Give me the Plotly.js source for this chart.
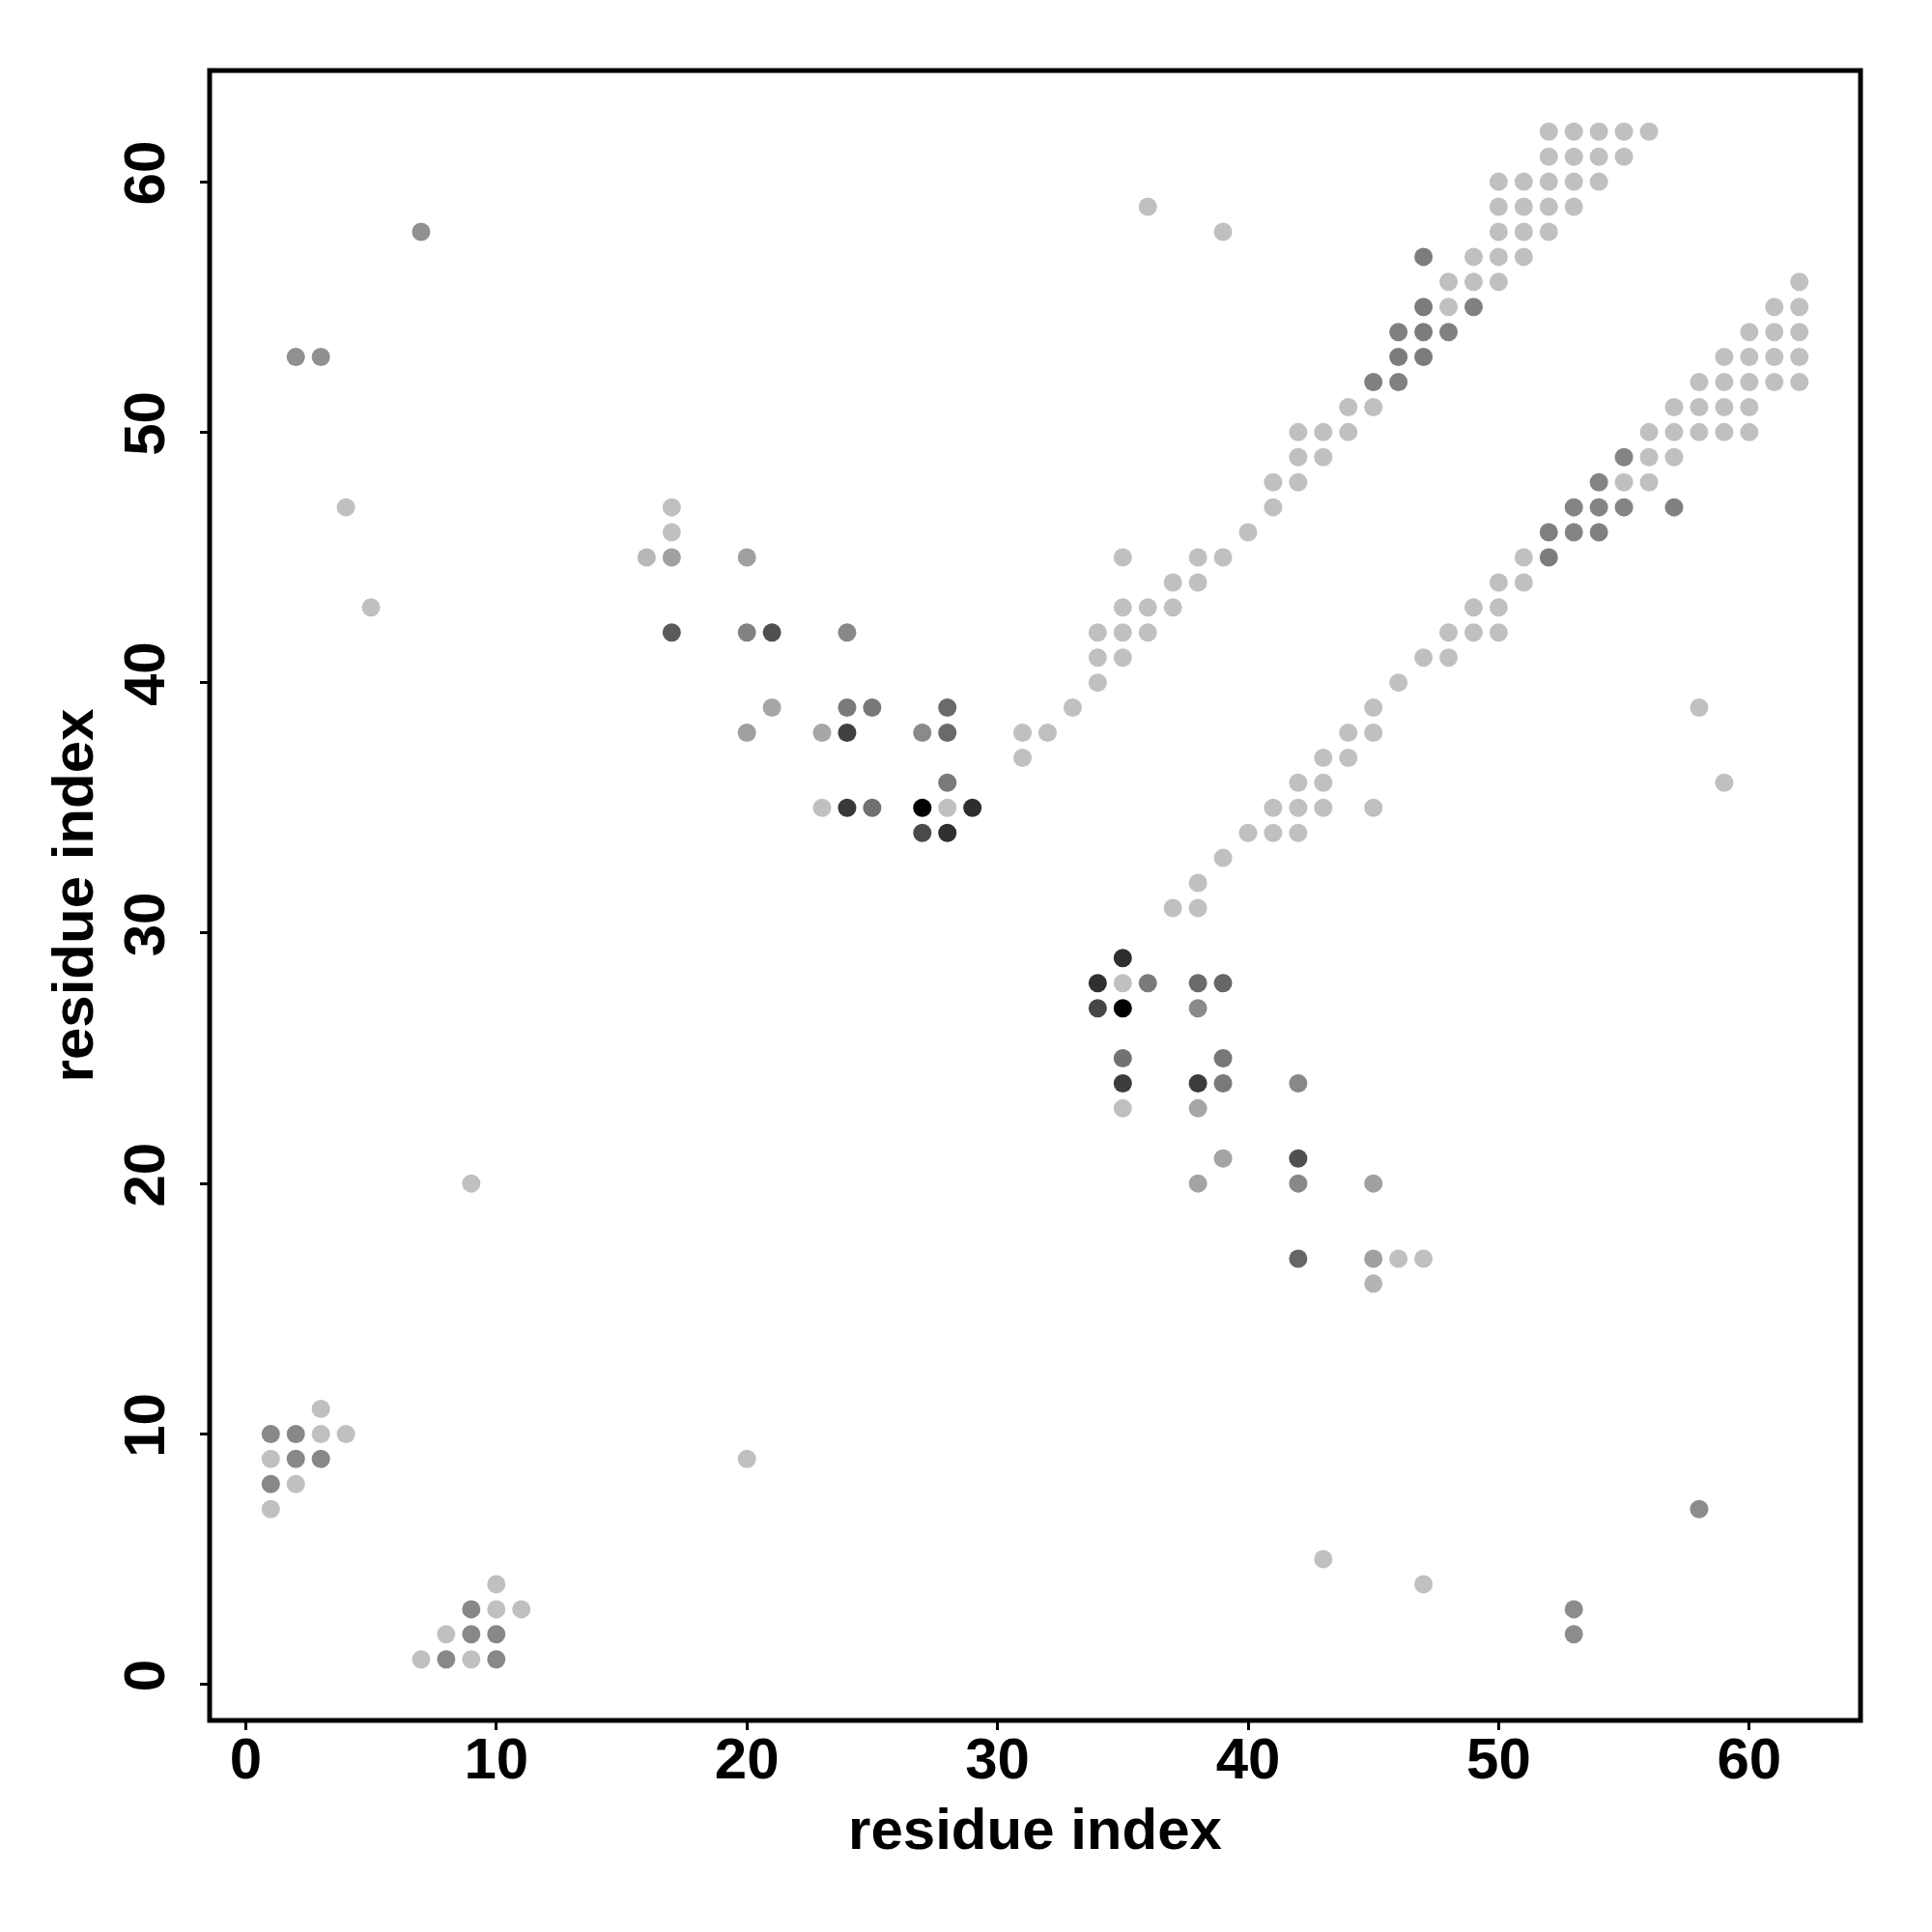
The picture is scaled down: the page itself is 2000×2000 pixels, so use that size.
<!DOCTYPE html>
<html>
<head>
<meta charset="utf-8">
<script src="https://cdn.plot.ly/plotly-3.0.1.min.js"></script>
<style>html,body{margin:0;padding:0;background:#fff;}#chart{width:2000px;height:2000px;}</style>
</head>
<body>
<div id="chart"></div>
<script>
// ---- Data: contact map (residue i, residue j, contact strength 0..1) ----
// scattered contacts, upper-left
const scatterX = [7,2,3,4,5,16,17,17,17,20,17,20,21,24,21,24,25,28,20,23,24,27,28,28,23,24,25,27,28,29,27,28];
const scatterY = [58,53,53,47,43,45,47,46,45,45,42,42,42,42,39,39,39,39,38,38,38,38,38,36,35,35,35,35,35,35,34,34];
const scatterS = [.28,.28,.28,.04,.04,.08,.04,.04,.2,.2,.55,.35,.6,.32,.17,.39,.4,.47,.2,.17,.68,.31,.47,.39,.04,.72,.44,1,.04,.77,.63,.76];

// cluster, lower middle
const clusterX = [35,34,35,36,38,39,34,35,38,35,39,35,38,39,42,35,38,39,42,38,42,45,42,45,46,47,45];
const clusterY = [29,28,28,28,28,28,27,27,27,25,25,24,24,24,24,23,23,21,21,20,20,20,17,17,17,17,16];
const clusterS = [.77,.76,.04,.39,.47,.49,.65,1,.31,.43,.4,.7,.7,.39,.32,.04,.17,.18,.6,.18,.32,.2,.49,.2,.04,.04,.1];

// bottom-left blocks and isolated contacts
const isoX = [3,1,2,3,4,1,2,3,1,2,1,9,20,10,9,10,11,8,9,10,7,8,9,10,58,43,47,53,53,36,39,58,59];
const isoY = [11,10,10,10,10,9,9,9,8,8,7,20,9,4,3,3,3,2,2,2,1,1,1,1,7,5,4,3,2,59,58,39,36];
const isoS = [.04,.32,.32,.04,.04,.04,.32,.32,.32,.04,.04,.04,.04,.04,.32,.04,.04,.04,.32,.32,.04,.32,.04,.32,.3,.04,.04,.3,.3,.04,.04,.04,.04];

// upper diagonal band
const upperX = [31,31,32,33,34,34,35,34,35,36,35,36,37,37,38,35,38,39,40,41,41,42,42,43,42,43,44,44,45,45,46,46,47,46,47,48,47,48,49,48,49,50,47,49,50,51,50,51,52,50,51,52,53,50,51,52,53,54,52,53,54,55,52,53,54,55,56];
const upperY = [37,38,38,39,40,41,41,42,42,42,43,43,43,44,44,45,45,45,46,47,48,48,49,49,50,50,50,51,51,52,52,53,53,54,54,54,55,55,55,56,56,56,57,57,57,57,58,58,58,59,59,59,59,60,60,60,60,60,61,61,61,61,62,62,62,62,62];
const upperS = [.04,.04,.04,.04,.04,.04,.04,.04,.04,.04,.04,.04,.04,.04,.04,.04,.04,.04,.04,.04,.04,.04,.04,.04,.04,.04,.04,.04,.04,
  .36,.36,.38,.38,.36,.38,.36,.38,.04,.36,.04,.04,.04,.38,.04,.04,.04,.04,.04,.04,.04,.04,.04,.04,.04,.04,.04,.04,.04,.04,.04,.04,.04,.04,.04,.04,.04,.04];

// lower diagonal band
const lowerX = [37,38,38,39,40,41,42,41,42,43,45,42,43,43,44,44,45,45,46,47,48,48,49,50,49,50,50,51,51,52,52,53,54,53,54,55,57,54,55,56,55,56,57,56,57,58,59,60,57,58,59,60,58,59,60,61,62,59,60,61,62,60,61,62,61,62,62];
const lowerY = [31,31,32,33,34,34,34,35,35,35,35,36,36,37,37,38,38,39,40,41,41,42,42,42,43,43,44,44,45,45,46,46,46,47,47,47,47,48,48,48,49,49,49,50,50,50,50,50,51,51,51,51,52,52,52,52,52,53,53,53,53,54,54,54,55,55,56];
const lowerS = [.04,.04,.04,.04,.04,.04,.04,.04,.04,.04,.04,.04,.04,.04,.04,.04,.04,.04,.04,.04,.04,.04,.04,.04,.04,.04,.04,.04,
  .04,.38,.36,.34,.36,.34,.34,.34,.36,.34,.04,.04,.34,.04,.04,
  .04,.04,.04,.04,.04,.04,.04,.04,.04,.04,.04,.04,.04,.04,.04,.04,.04,.04,.04,.04,.04,.04,.04,.04];

const tickValues = [0,10,20,30,40,50,60];
const axisLabel = 'residue index';

const xs = [].concat(scatterX, clusterX, isoX, upperX, lowerX);
const ys = [].concat(scatterY, clusterY, isoY, upperY, lowerY);
const ss = [].concat(scatterS, clusterS, isoS, upperS, lowerS);

const fontFam = '"Liberation Sans", Arial, Helvetica, sans-serif';
const tickFont = {family: fontFam, size: 60, color: '#000', weight: 'bold'};
const titleFont = {family: fontFam, size: 60, color: '#000', weight: 'bold'};

const trace = {
  type: 'scatter', mode: 'markers', x: xs, y: ys,
  marker: {
    size: 19, color: ss, cmin: 0, cmax: 1,
    colorscale: [[0, 'rgb(200,200,200)'], [1, 'rgb(0,0,0)']],
    showscale: false, line: {width: 0}
  },
  hoverinfo: 'x+y'
};

const axisBase = {
  tickvals: tickValues, ticks: 'outside', ticklen: 9, tickwidth: 3, tickcolor: '#000',
  showgrid: false, zeroline: false, showline: false, tickfont: tickFont,
  automargin: false, fixedrange: true
};

const layout = {
  width: 2000, height: 2000,
  margin: {l: 217, r: 74, t: 73, b: 219},
  paper_bgcolor: '#fff', plot_bgcolor: '#fff',
  showlegend: false,
  xaxis: Object.assign({}, axisBase, {
    range: [-1.44, 64.44],
    ticklabelstandoff: -22,
    title: {text: axisLabel, font: titleFont, standoff: 18}
  }),
  yaxis: Object.assign({}, axisBase, {
    range: [-1.44, 64.44],
    tickangle: -90,
    ticklabelstandoff: 13,
    title: {text: axisLabel, font: titleFont, standoff: 0}
  }),
  shapes: [{type: 'rect', xref: 'paper', yref: 'paper', x0: 0, x1: 1, y0: 0, y1: 1,
            line: {color: '#000', width: 5}, fillcolor: 'rgba(0,0,0,0)', layer: 'above'}]
};

Plotly.newPlot('chart', [trace], layout, {displayModeBar: false, staticPlot: true});
</script>
</body>
</html>
